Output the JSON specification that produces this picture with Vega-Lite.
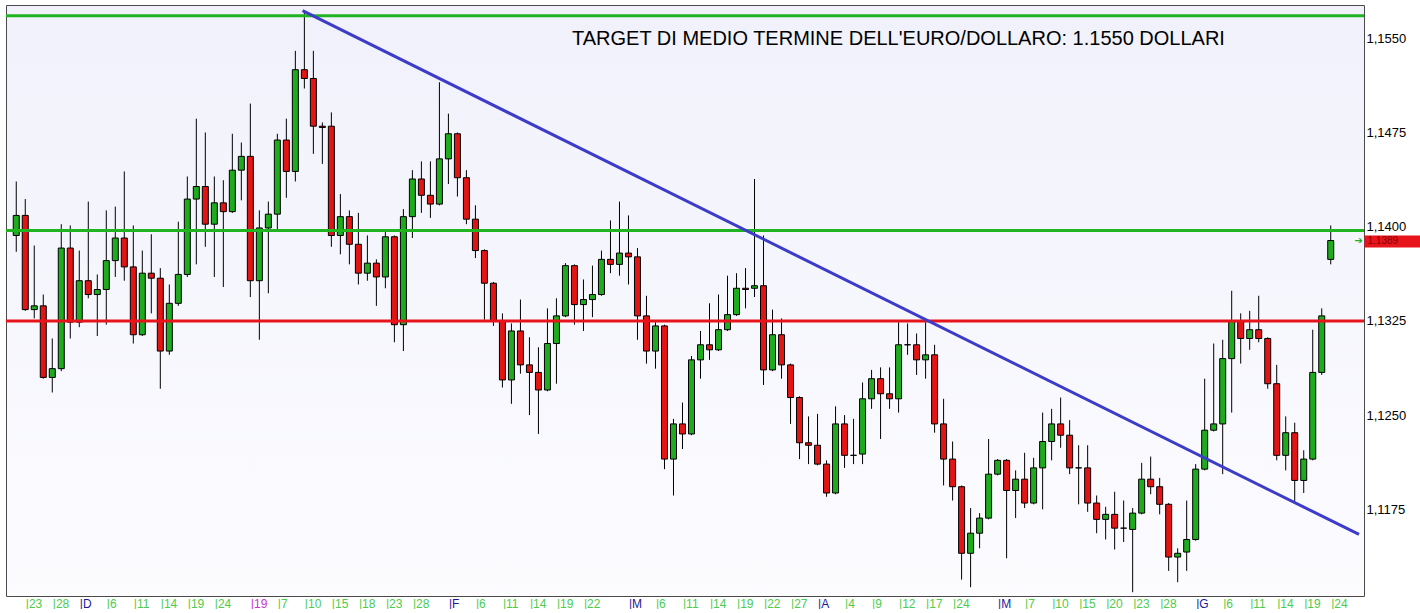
{
"$schema": "https://vega.github.io/schema/vega-lite/v6.json",
"width": 1358,
"height": 591,
"padding": {"left": 4, "top": 4, "right": 0, "bottom": 0},
"background": "#ffffff",
"view": {"stroke": "#4a4a4a", "strokeWidth": 1, "fill": {"gradient": "linear", "x1": 0, "y1": 0, "x2": 0, "y2": 1, "stops": [{"offset": 0, "color": "#f0f1fb"}, {"offset": 1, "color": "#fcfcff"}]}},
"title": {"text": "TARGET DI MEDIO TERMINE DELL'EURO/DOLLARO: 1.1550 DOLLARI", "anchor": "start", "frame": "group", "orient": "top", "offset": -54, "dx": 566, "font": "Liberation Sans", "fontSize": 20, "fontWeight": "normal", "color": "#000000", "baseline": "middle"},
"datasets": {
"ohlc": [
{"i":0,"o":1.1393,"h":1.1436,"l":1.1380,"c":1.1409},
{"i":1,"o":1.1409,"h":1.1422,"l":1.1333,"c":1.1334},
{"i":2,"o":1.1334,"h":1.1385,"l":1.1327,"c":1.1337},
{"i":3,"o":1.1337,"h":1.1346,"l":1.1279,"c":1.1280},
{"i":4,"o":1.1280,"h":1.1311,"l":1.1268,"c":1.1287},
{"i":5,"o":1.1287,"h":1.1402,"l":1.1285,"c":1.1383},
{"i":6,"o":1.1383,"h":1.1401,"l":1.1311,"c":1.1324},
{"i":7,"o":1.1324,"h":1.1381,"l":1.1320,"c":1.1357},
{"i":8,"o":1.1357,"h":1.1420,"l":1.1343,"c":1.1346},
{"i":9,"o":1.1346,"h":1.1362,"l":1.1313,"c":1.1350},
{"i":10,"o":1.1350,"h":1.1413,"l":1.1322,"c":1.1373},
{"i":11,"o":1.1373,"h":1.1416,"l":1.1360,"c":1.1391},
{"i":12,"o":1.1391,"h":1.1444,"l":1.1357,"c":1.1368},
{"i":13,"o":1.1368,"h":1.1401,"l":1.1307,"c":1.1314},
{"i":14,"o":1.1314,"h":1.1381,"l":1.1313,"c":1.1363},
{"i":15,"o":1.1363,"h":1.1394,"l":1.1331,"c":1.1359},
{"i":16,"o":1.1359,"h":1.1367,"l":1.1271,"c":1.1301},
{"i":17,"o":1.1301,"h":1.1354,"l":1.1298,"c":1.1339},
{"i":18,"o":1.1339,"h":1.1404,"l":1.1337,"c":1.1362},
{"i":19,"o":1.1362,"h":1.1440,"l":1.1360,"c":1.1422},
{"i":20,"o":1.1422,"h":1.1486,"l":1.1370,"c":1.1432},
{"i":21,"o":1.1432,"h":1.1475,"l":1.1384,"c":1.1402},
{"i":22,"o":1.1402,"h":1.1440,"l":1.1360,"c":1.1419},
{"i":23,"o":1.1419,"h":1.1437,"l":1.1352,"c":1.1412},
{"i":24,"o":1.1412,"h":1.1474,"l":1.1411,"c":1.1445},
{"i":25,"o":1.1445,"h":1.1467,"l":1.1421,"c":1.1456},
{"i":26,"o":1.1456,"h":1.1498,"l":1.1344,"c":1.1357},
{"i":27,"o":1.1357,"h":1.1413,"l":1.1310,"c":1.1399},
{"i":28,"o":1.1399,"h":1.1420,"l":1.1347,"c":1.1410},
{"i":29,"o":1.1410,"h":1.1474,"l":1.1398,"c":1.1469},
{"i":30,"o":1.1469,"h":1.1486,"l":1.1423,"c":1.1444},
{"i":31,"o":1.1444,"h":1.1540,"l":1.1436,"c":1.1525},
{"i":32,"o":1.1525,"h":1.1572,"l":1.1510,"c":1.1518},
{"i":33,"o":1.1518,"h":1.1540,"l":1.1458,"c":1.1480},
{"i":34,"o":1.1480,"h":1.1483,"l":1.1450,"c":1.1479},
{"i":35,"o":1.1480,"h":1.1491,"l":1.1384,"c":1.1393},
{"i":36,"o":1.1393,"h":1.1426,"l":1.1378,"c":1.1408},
{"i":37,"o":1.1408,"h":1.1413,"l":1.1370,"c":1.1386},
{"i":38,"o":1.1386,"h":1.1411,"l":1.1354,"c":1.1363},
{"i":39,"o":1.1363,"h":1.1393,"l":1.1357,"c":1.1371},
{"i":40,"o":1.1371,"h":1.1374,"l":1.1337,"c":1.1360},
{"i":41,"o":1.1360,"h":1.1396,"l":1.1351,"c":1.1392},
{"i":42,"o":1.1392,"h":1.1393,"l":1.1308,"c":1.1322},
{"i":43,"o":1.1322,"h":1.1414,"l":1.1301,"c":1.1408},
{"i":44,"o":1.1408,"h":1.1445,"l":1.1391,"c":1.1438},
{"i":45,"o":1.1438,"h":1.1452,"l":1.1411,"c":1.1425},
{"i":46,"o":1.1425,"h":1.1452,"l":1.1407,"c":1.1418},
{"i":47,"o":1.1418,"h":1.1515,"l":1.1417,"c":1.1454},
{"i":48,"o":1.1454,"h":1.1490,"l":1.1434,"c":1.1474},
{"i":49,"o":1.1474,"h":1.1475,"l":1.1424,"c":1.1439},
{"i":50,"o":1.1439,"h":1.1445,"l":1.1402,"c":1.1406},
{"i":51,"o":1.1406,"h":1.1417,"l":1.1375,"c":1.1381},
{"i":52,"o":1.1381,"h":1.1382,"l":1.1326,"c":1.1355},
{"i":53,"o":1.1355,"h":1.1356,"l":1.1321,"c":1.1325},
{"i":54,"o":1.1325,"h":1.1331,"l":1.1272,"c":1.1278},
{"i":55,"o":1.1278,"h":1.1323,"l":1.1259,"c":1.1317},
{"i":56,"o":1.1317,"h":1.1342,"l":1.1283,"c":1.1290},
{"i":57,"o":1.1290,"h":1.1312,"l":1.1250,"c":1.1284},
{"i":58,"o":1.1284,"h":1.1304,"l":1.1235,"c":1.1270},
{"i":59,"o":1.1270,"h":1.1335,"l":1.1269,"c":1.1307},
{"i":60,"o":1.1307,"h":1.1343,"l":1.1275,"c":1.1329},
{"i":61,"o":1.1329,"h":1.1371,"l":1.1328,"c":1.1369},
{"i":62,"o":1.1369,"h":1.1370,"l":1.1322,"c":1.1338},
{"i":63,"o":1.1338,"h":1.1358,"l":1.1317,"c":1.1342},
{"i":64,"o":1.1342,"h":1.1369,"l":1.1328,"c":1.1346},
{"i":65,"o":1.1346,"h":1.1381,"l":1.1345,"c":1.1374},
{"i":66,"o":1.1374,"h":1.1405,"l":1.1363,"c":1.1370},
{"i":67,"o":1.1370,"h":1.1420,"l":1.1361,"c":1.1379},
{"i":68,"o":1.1379,"h":1.1409,"l":1.1354,"c":1.1376},
{"i":69,"o":1.1376,"h":1.1383,"l":1.1310,"c":1.1329},
{"i":70,"o":1.1329,"h":1.1345,"l":1.1291,"c":1.1301},
{"i":71,"o":1.1301,"h":1.1324,"l":1.1287,"c":1.1321},
{"i":72,"o":1.1321,"h":1.1322,"l":1.1207,"c":1.1215},
{"i":73,"o":1.1215,"h":1.1247,"l":1.1186,"c":1.1243},
{"i":74,"o":1.1243,"h":1.1260,"l":1.1223,"c":1.1235},
{"i":75,"o":1.1235,"h":1.1297,"l":1.1234,"c":1.1294},
{"i":76,"o":1.1294,"h":1.1317,"l":1.1279,"c":1.1306},
{"i":77,"o":1.1306,"h":1.1339,"l":1.1294,"c":1.1302},
{"i":78,"o":1.1302,"h":1.1346,"l":1.1301,"c":1.1318},
{"i":79,"o":1.1318,"h":1.1361,"l":1.1317,"c":1.1330},
{"i":80,"o":1.1330,"h":1.1363,"l":1.1329,"c":1.1351},
{"i":81,"o":1.1351,"h":1.1367,"l":1.1335,"c":1.1350},
{"i":82,"o":1.1351,"h":1.1438,"l":1.1344,"c":1.1353},
{"i":83,"o":1.1353,"h":1.1393,"l":1.1274,"c":1.1286},
{"i":84,"o":1.1286,"h":1.1334,"l":1.1285,"c":1.1314},
{"i":85,"o":1.1314,"h":1.1327,"l":1.1279,"c":1.1290},
{"i":86,"o":1.1290,"h":1.1291,"l":1.1243,"c":1.1264},
{"i":87,"o":1.1264,"h":1.1265,"l":1.1215,"c":1.1228},
{"i":88,"o":1.1228,"h":1.1249,"l":1.1211,"c":1.1226},
{"i":89,"o":1.1226,"h":1.1251,"l":1.1210,"c":1.1211},
{"i":90,"o":1.1211,"h":1.1214,"l":1.1185,"c":1.1188},
{"i":91,"o":1.1188,"h":1.1257,"l":1.1187,"c":1.1243},
{"i":92,"o":1.1243,"h":1.1250,"l":1.1208,"c":1.1218},
{"i":93,"o":1.1218,"h":1.1247,"l":1.1211,"c":1.1218},
{"i":94,"o":1.1219,"h":1.1276,"l":1.1211,"c":1.1263},
{"i":95,"o":1.1263,"h":1.1286,"l":1.1255,"c":1.1279},
{"i":96,"o":1.1279,"h":1.1288,"l":1.1231,"c":1.1267},
{"i":97,"o":1.1267,"h":1.1288,"l":1.1255,"c":1.1263},
{"i":98,"o":1.1263,"h":1.1324,"l":1.1252,"c":1.1306},
{"i":99,"o":1.1306,"h":1.1323,"l":1.1298,"c":1.1306},
{"i":100,"o":1.1306,"h":1.1315,"l":1.1282,"c":1.1294},
{"i":101,"o":1.1294,"h":1.1324,"l":1.1279,"c":1.1298},
{"i":102,"o":1.1298,"h":1.1306,"l":1.1236,"c":1.1243},
{"i":103,"o":1.1243,"h":1.1263,"l":1.1194,"c":1.1215},
{"i":104,"o":1.1215,"h":1.1229,"l":1.1182,"c":1.1193},
{"i":105,"o":1.1193,"h":1.1194,"l":1.1119,"c":1.1140},
{"i":106,"o":1.1140,"h":1.1176,"l":1.1113,"c":1.1156},
{"i":107,"o":1.1156,"h":1.1172,"l":1.1144,"c":1.1168},
{"i":108,"o":1.1168,"h":1.1231,"l":1.1167,"c":1.1203},
{"i":109,"o":1.1203,"h":1.1215,"l":1.1202,"c":1.1214},
{"i":110,"o":1.1214,"h":1.1215,"l":1.1136,"c":1.1190},
{"i":111,"o":1.1190,"h":1.1206,"l":1.1168,"c":1.1199},
{"i":112,"o":1.1199,"h":1.1220,"l":1.1176,"c":1.1180},
{"i":113,"o":1.1180,"h":1.1216,"l":1.1179,"c":1.1208},
{"i":114,"o":1.1208,"h":1.1252,"l":1.1175,"c":1.1229},
{"i":115,"o":1.1229,"h":1.1255,"l":1.1214,"c":1.1243},
{"i":116,"o":1.1243,"h":1.1264,"l":1.1224,"c":1.1234},
{"i":117,"o":1.1234,"h":1.1246,"l":1.1203,"c":1.1208},
{"i":118,"o":1.1208,"h":1.1226,"l":1.1179,"c":1.1208},
{"i":119,"o":1.1208,"h":1.1226,"l":1.1173,"c":1.1180},
{"i":120,"o":1.1180,"h":1.1186,"l":1.1156,"c":1.1167},
{"i":121,"o":1.1167,"h":1.1177,"l":1.1151,"c":1.1171},
{"i":122,"o":1.1171,"h":1.1189,"l":1.1143,"c":1.1160},
{"i":123,"o":1.1160,"h":1.1182,"l":1.1149,"c":1.1160},
{"i":124,"o":1.1159,"h":1.1176,"l":1.1109,"c":1.1172},
{"i":125,"o":1.1172,"h":1.1212,"l":1.1171,"c":1.1199},
{"i":126,"o":1.1199,"h":1.1217,"l":1.1187,"c":1.1193},
{"i":127,"o":1.1193,"h":1.1200,"l":1.1171,"c":1.1179},
{"i":128,"o":1.1179,"h":1.1180,"l":1.1126,"c":1.1137},
{"i":129,"o":1.1137,"h":1.1144,"l":1.1117,"c":1.1140},
{"i":130,"o":1.1141,"h":1.1182,"l":1.1126,"c":1.1151},
{"i":131,"o":1.1151,"h":1.1211,"l":1.1150,"c":1.1207},
{"i":132,"o":1.1207,"h":1.1279,"l":1.1206,"c":1.1238},
{"i":133,"o":1.1238,"h":1.1307,"l":1.1237,"c":1.1243},
{"i":134,"o":1.1243,"h":1.1310,"l":1.1203,"c":1.1295},
{"i":135,"o":1.1295,"h":1.1349,"l":1.1252,"c":1.1325},
{"i":136,"o":1.1325,"h":1.1331,"l":1.1291,"c":1.1311},
{"i":137,"o":1.1311,"h":1.1333,"l":1.1302,"c":1.1318},
{"i":138,"o":1.1318,"h":1.1345,"l":1.1308,"c":1.1311},
{"i":139,"o":1.1311,"h":1.1312,"l":1.1271,"c":1.1275},
{"i":140,"o":1.1275,"h":1.1290,"l":1.1214,"c":1.1218},
{"i":141,"o":1.1218,"h":1.1249,"l":1.1206,"c":1.1236},
{"i":142,"o":1.1236,"h":1.1244,"l":1.1180,"c":1.1198},
{"i":143,"o":1.1198,"h":1.1222,"l":1.1188,"c":1.1215},
{"i":144,"o":1.1215,"h":1.1318,"l":1.1214,"c":1.1284},
{"i":145,"o":1.1284,"h":1.1335,"l":1.1282,"c":1.1329},
{"i":146,"o":1.1374,"h":1.1401,"l":1.1370,"c":1.1389}
],
"levels": [
{"p":1.1568,"k":"supporto"},
{"p":1.1397,"k":"supporto"},
{"p":1.1325,"k":"resistenza"}
],
"trend": [
{"i":31.8,"p":1.1572},
{"i":149.14,"p":1.1155}
]
},
"resolve": {"axis": {"x": "independent", "y": "independent"}},
"layer": [
{
"data": {"name": "ohlc"},
"mark": {"type": "rule", "color": "#000000", "strokeWidth": 1},
"encoding": {
"x": {"field": "i", "type": "quantitative",
"scale": {"domain": [-0.584, 149.14], "nice": false, "zero": false},
"axis": {"orient": "bottom", "values": [1,4,10,13,16,19,22,29,32,35,38,41,44,51,54,57,60,63,71,74,77,80,83,86,92,95,98,101,104,112,115,118,121,124,127,134,137,140,143,146],
"labelExpr": "'|' + ['23','28','6','11','14','19','24','7','10','15','18','23','28','6','11','14','19','22','6','11','14','19','22','27','4','9','12','17','24','7','10','15','20','23','28','6','11','14','19','24'][indexof([1,4,10,13,16,19,22,29,32,35,38,41,44,51,54,57,60,63,71,74,77,80,83,86,92,95,98,101,104,112,115,118,121,124,127,134,137,140,143,146], datum.value)]",
"labelAlign": "left", "labelBaseline": "top", "labelPadding": 2, "ticks": false, "domain": false, "grid": false, "title": null,
"labelFont": "Liberation Sans", "labelFontSize": 12, "labelOverlap": false, "labelBound": false, "labelFlush": false, "labelColor": "#4ccc4c"}},
"y": {"field": "l", "type": "quantitative",
"scale": {"domain": [1.1106, 1.15765], "nice": false, "zero": false},
"axis": {"orient": "right", "values": [1.1175, 1.125, 1.1325, 1.14, 1.1475, 1.155],
"labelExpr": "replace(format(datum.value, '.4f'), '.', ',')",
"ticks": false, "domain": false, "grid": false, "title": null, "labelPadding": 2,
"labelFont": "Liberation Sans", "labelFontSize": 13, "labelColor": "#000000", "labelAlign": "left", "labelBaseline": "middle", "labelOverlap": false}},
"y2": {"field": "h"}
}
},
{
"data": {"name": "ohlc"},
"mark": {"type": "bar", "size": 6, "stroke": "#000000", "strokeWidth": 1},
"encoding": {
"x": {"field": "i", "type": "quantitative",
"axis": {"orient": "bottom", "values": [7,48,68,89,109,131],
"labelExpr": "'|' + ['D','F','M','A','M','G'][indexof([7,48,68,89,109,131], datum.value)]",
"labelAlign": "left", "labelBaseline": "top", "labelPadding": 2, "ticks": false, "domain": false, "grid": false, "title": null,
"labelFont": "Liberation Sans", "labelFontSize": 12, "labelOverlap": false, "labelBound": false, "labelFlush": false, "labelColor": "#1a1a99"}},
"y": {"field": "o", "type": "quantitative",
"axis": {"orient": "right", "values": [1.1389], "labelExpr": "format(datum.value, '.4f')",
"ticks": true, "tickSize": 58, "tickWidth": 12, "tickColor": "#e8141c", "domain": false, "grid": false, "title": null,
"labelPadding": -55, "labelFont": "Liberation Sans", "labelFontSize": 10, "labelColor": "#8b0000", "labelAlign": "left", "labelBaseline": "middle"}},
"y2": {"field": "c"},
"color": {"condition": {"test": "datum.c >= datum.o", "value": "#1eab1e"}, "value": "#e31414"}
}
},
{
"data": {"name": "levels"},
"mark": {"type": "rule", "strokeWidth": 3},
"encoding": {
"y": {"field": "p", "type": "quantitative",
"axis": {"orient": "right", "values": [1.1389], "labelExpr": "'➔'", "ticks": false, "tickSize": 0, "domain": false, "grid": false, "title": null,
"labelPadding": -10, "labelFont": "DejaVu Sans", "labelFontSize": 10, "labelColor": "#22b022", "labelAlign": "left", "labelBaseline": "middle"}},
"color": {"field": "k", "type": "nominal", "scale": {"domain": ["supporto", "resistenza"], "range": ["#20b520", "#e8141c"]}, "legend": null}
}
},
{
"data": {"name": "trend"},
"mark": {"type": "line", "strokeWidth": 3, "color": "#3c3cc8"},
"encoding": {
"x": {"field": "i", "type": "quantitative",
"axis": {"orient": "bottom", "values": [26], "labelExpr": "'|19'",
"labelAlign": "left", "labelBaseline": "top", "labelPadding": 2, "ticks": false, "domain": false, "grid": false, "title": null,
"labelFont": "Liberation Sans", "labelFontSize": 12, "labelOverlap": false, "labelBound": false, "labelFlush": false, "labelColor": "#cc33cc"}},
"y": {"field": "p", "type": "quantitative", "axis": null}
}
}
]
}
